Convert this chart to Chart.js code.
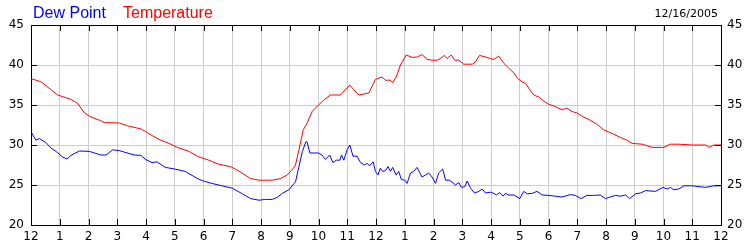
<!DOCTYPE html>
<html>
<head>
  <title>Dew Point / Temperature</title>
  <script src="https://cdn.jsdelivr.net/npm/chart.js"></script>
  <style>
    body { margin: 0; background: #fff; }
  </style>
</head>
<body>
  <canvas id="grafico" width="750" height="250"></canvas>

  <script>
    // hours since midnight (0..24) and readings
    const tempHours = [0, 0.35, 0.7, 0.93, 1.39, 1.62, 1.86, 2.09, 2.38, 2.55, 3.07, 3.36, 3.83, 3.98, 4.2, 4.45, 4.8,
      5.09, 5.5, 5.78, 6.18, 6.53, 6.94, 7.23, 7.64, 7.93, 8.39, 8.68, 8.91, 9.08, 9.2, 9.32, 9.47, 9.6, 9.78,
      10.0, 10.18, 10.41, 10.76, 10.93, 11.09, 11.23, 11.4, 11.75, 11.98, 12.21, 12.33, 12.5, 12.58, 12.7, 12.85,
      13.05, 13.26, 13.43, 13.6, 13.78, 13.95, 14.13, 14.24, 14.38, 14.47, 14.62, 14.74, 14.88, 15.05, 15.35, 15.46,
      15.6, 15.81, 15.98, 16.1, 16.27, 16.45, 16.62, 16.8, 16.93, 17.08, 17.2, 17.35, 17.49, 17.66, 17.83, 18.0,
      18.24, 18.47, 18.64, 18.81, 18.99, 19.22, 19.45, 19.68, 19.92, 20.21, 20.5, 20.73, 20.91, 21.26, 21.6, 22.01,
      22.24, 22.53, 23.0, 23.46, 23.6, 23.75, 24.0];
    const tempValues = [38.3, 37.9, 36.9, 36.25, 35.7, 35.2, 34.0, 33.5, 33.1, 32.8, 32.75, 32.4, 32.0, 31.7, 31.2, 30.7, 30.2,
      29.7, 29.2, 28.6, 28.1, 27.6, 27.3, 26.75, 25.8, 25.6, 25.6, 25.8, 26.25, 26.9, 27.5, 29.4, 31.9, 32.7, 34.2,
      35.0, 35.6, 36.25, 36.25, 36.9, 37.5, 36.9, 36.25, 36.5, 38.2, 38.5, 38.1, 38.1, 37.8, 38.5, 40.0,
      41.25, 40.95, 41.0, 41.3, 40.7, 40.6, 40.6, 40.8, 41.2, 40.8, 41.25, 40.6, 40.6, 40.1, 40.1, 40.4,
      41.2, 41.0, 40.8, 40.7, 41.1, 40.2, 39.6, 39.0, 38.3, 37.9, 37.7, 36.9, 36.25, 36.0, 35.5, 35.1,
      34.8, 34.4, 34.6, 34.2, 34.0, 33.5, 33.1, 32.6, 31.9, 31.45, 30.95, 30.6, 30.2, 30.1, 29.7, 29.7,
      30.1, 30.1, 30.0, 30.0, 29.7, 30.0, 30.0];

    const dewHours = [0, 0.17, 0.29, 0.52, 0.7, 0.87, 1.1, 1.25, 1.39, 1.68, 2.03, 2.43, 2.61, 2.84, 3.07, 3.59, 3.83, 3.98,
      4.21, 4.38, 4.67, 5.0, 5.36, 5.82, 6.0, 6.29, 6.64, 7.0, 7.35, 7.64, 7.93, 8.16, 8.39, 8.56, 8.74, 8.97,
      9.2, 9.32, 9.44, 9.56, 9.6, 9.7, 10.0, 10.12, 10.24, 10.39, 10.5, 10.62, 10.74, 10.8, 10.88, 11.0, 11.09,
      11.2, 11.34, 11.46, 11.6, 11.69, 11.78, 11.9, 11.98, 12.07, 12.15, 12.23, 12.33, 12.42, 12.5, 12.58, 12.7,
      12.79, 12.88, 13.0, 13.08, 13.2, 13.31, 13.43, 13.6, 13.72, 13.83, 13.95, 14.07, 14.18, 14.32, 14.42, 14.55,
      14.67, 14.76, 14.88, 14.97, 15.09, 15.17, 15.29, 15.43, 15.58, 15.69, 15.81, 15.98, 16.1, 16.19, 16.31, 16.42,
      16.5, 16.62, 16.8, 17.0, 17.14, 17.26, 17.43, 17.6, 17.78, 18.0, 18.24, 18.47, 18.76, 18.93, 19.13, 19.34,
      19.57, 19.8, 19.98, 20.15, 20.33, 20.5, 20.68, 20.82, 21.03, 21.2, 21.38, 21.72, 21.98, 22.13, 22.24, 22.36,
      22.53, 22.71, 23.0, 23.46, 23.75, 24.0];
    const dewValues = [31.67, 30.6, 30.8, 30.3, 29.6, 29.2, 28.5, 28.25, 28.7, 29.25, 29.2, 28.75, 28.75, 29.4, 29.3, 28.75, 28.7, 28.2,
      27.8, 27.9, 27.2, 27.0, 26.7, 25.75, 25.5, 25.2, 24.9, 24.6, 23.9, 23.3, 23.1, 23.2, 23.2, 23.45, 23.95, 24.4,
      25.4, 27.3, 29.2, 30.4, 30.4, 29.0, 29.0, 28.75, 28.2, 28.75, 27.8, 28.1, 28.1, 28.75, 28.1, 29.45, 30.0,
      28.6, 28.6, 27.8, 27.5, 27.7, 27.4, 27.9, 26.7, 26.25, 27.1, 26.7, 26.8, 27.3, 26.7, 27.2, 26.25,
      26.7, 25.7, 25.6, 25.2, 26.5, 26.7, 27.2, 26.0, 26.25, 26.5, 26.0, 25.2, 26.5, 27.0, 25.6, 25.6,
      25.3, 25.0, 25.3, 24.7, 24.8, 25.5, 24.6, 24.0, 24.2, 24.5, 24.0, 24.1, 23.95, 23.75, 24.05, 23.6,
      23.95, 23.75, 23.75, 23.3, 24.2, 23.9, 23.95, 24.2, 23.75, 23.7, 23.6, 23.5, 23.8, 23.7, 23.3, 23.7,
      23.7, 23.75, 23.3, 23.5, 23.7, 23.6, 23.75, 23.3, 23.9, 24.0, 24.3, 24.2, 24.7, 24.5, 24.7, 24.4,
      24.5, 24.9, 24.9, 24.7, 24.9, 24.9];

    const hourLabels = ['12', '1', '2', '3', '4', '5', '6', '7', '8', '9', '10', '11',
                        '12', '1', '2', '3', '4', '5', '6', '7', '8', '9', '10', '11', '12'];
    const fecha = '12/16/2005';

    const puntos = (hs, vs) => hs.map((h, i) => ({ x: h, y: vs[i] }));

    // title texts, frame and inward tick marks
    const marco = {
      id: 'marco',
      afterDraw(chart) {
        const ctx = chart.ctx;
        const a = chart.chartArea;
        const sx = chart.scales.x, sy = chart.scales.y;
        ctx.save();
        ctx.strokeStyle = '#000';
        ctx.lineWidth = 1;
        ctx.beginPath();
        ctx.moveTo(a.left, a.top + 0.5);
        ctx.lineTo(a.right + 1, a.top + 0.5);
        for (let h = 1; h < 24; h++) {
          const x = Math.round(sx.getPixelForValue(h)) + 0.5;
          ctx.moveTo(x, a.top);
          ctx.lineTo(x, a.top + 6);
          ctx.moveTo(x, a.bottom);
          ctx.lineTo(x, a.bottom - 6);
        }
        for (let v = 25; v < 45; v += 5) {
          const y = Math.round(sy.getPixelForValue(v)) + 0.5;
          ctx.moveTo(a.left, y);
          ctx.lineTo(a.left + 6, y);
          ctx.moveTo(a.right, y);
          ctx.lineTo(a.right - 6, y);
        }
        ctx.stroke();

        ctx.font = '16px "Liberation Sans", Arial, sans-serif';
        ctx.textBaseline = 'alphabetic';
        ctx.textAlign = 'left';
        ctx.fillStyle = '#0000ff';
        ctx.fillText('Dew Point', 33, 18);
        ctx.fillStyle = '#ff0000';
        ctx.fillText('Temperature', 123, 18);
        ctx.font = '11px "DejaVu Sans", sans-serif';
        ctx.fillStyle = '#000';
        ctx.textAlign = 'right';
        ctx.fillText(fecha, 718, 17);
        ctx.restore();
      }
    };

    const fuenteTicks = { family: '"DejaVu Sans", sans-serif', size: 12 };

    new Chart(document.getElementById('grafico').getContext('2d'), {
      type: 'scatter',
      data: {
        datasets: [
          {
            label: 'Temperature',
            data: puntos(tempHours, tempValues),
            showLine: true,
            borderColor: '#ff0000',
            borderWidth: 1,
            pointRadius: 0,
            tension: 0,
            yAxisID: 'y'
          },
          {
            label: 'Dew Point',
            data: puntos(dewHours, dewValues),
            showLine: true,
            borderColor: '#0000ff',
            borderWidth: 1,
            pointRadius: 0,
            tension: 0,
            yAxisID: 'y'
          }
        ]
      },
      options: {
        responsive: false,
        animation: false,
        layout: { padding: { top: 25, left: 0, right: 0, bottom: 0 } },
        plugins: {
          legend: { display: false },
          tooltip: { enabled: false }
        },
        scales: {
          x: {
            type: 'linear',
            min: 0,
            max: 24,
            afterFit: s => { s.height = 25; },
            afterBuildTicks: s => { s.ticks = hourLabels.map((_, i) => ({ value: i })); },
            ticks: {
              autoSkip: false,
              maxRotation: 0,
              padding: 5,
              color: '#000',
              font: fuenteTicks,
              callback: v => hourLabels[v]
            },
            grid: { color: '#cccccc', drawTicks: false },
            border: { color: '#000' }
          },
          y: {
            position: 'left',
            min: 20,
            max: 45,
            afterFit: s => { s.width = 31; },
            ticks: { stepSize: 5, padding: 7, color: '#000', font: fuenteTicks },
            grid: { color: '#cccccc', drawTicks: false },
            border: { color: '#000' }
          },
          y2: {
            position: 'right',
            min: 20,
            max: 45,
            afterFit: s => { s.width = 29; },
            ticks: { stepSize: 5, padding: 6, color: '#000', font: fuenteTicks },
            grid: { display: false, drawTicks: false },
            border: { color: '#000' }
          }
        }
      },
      plugins: [marco]
    });
  </script>
</body>
</html>
